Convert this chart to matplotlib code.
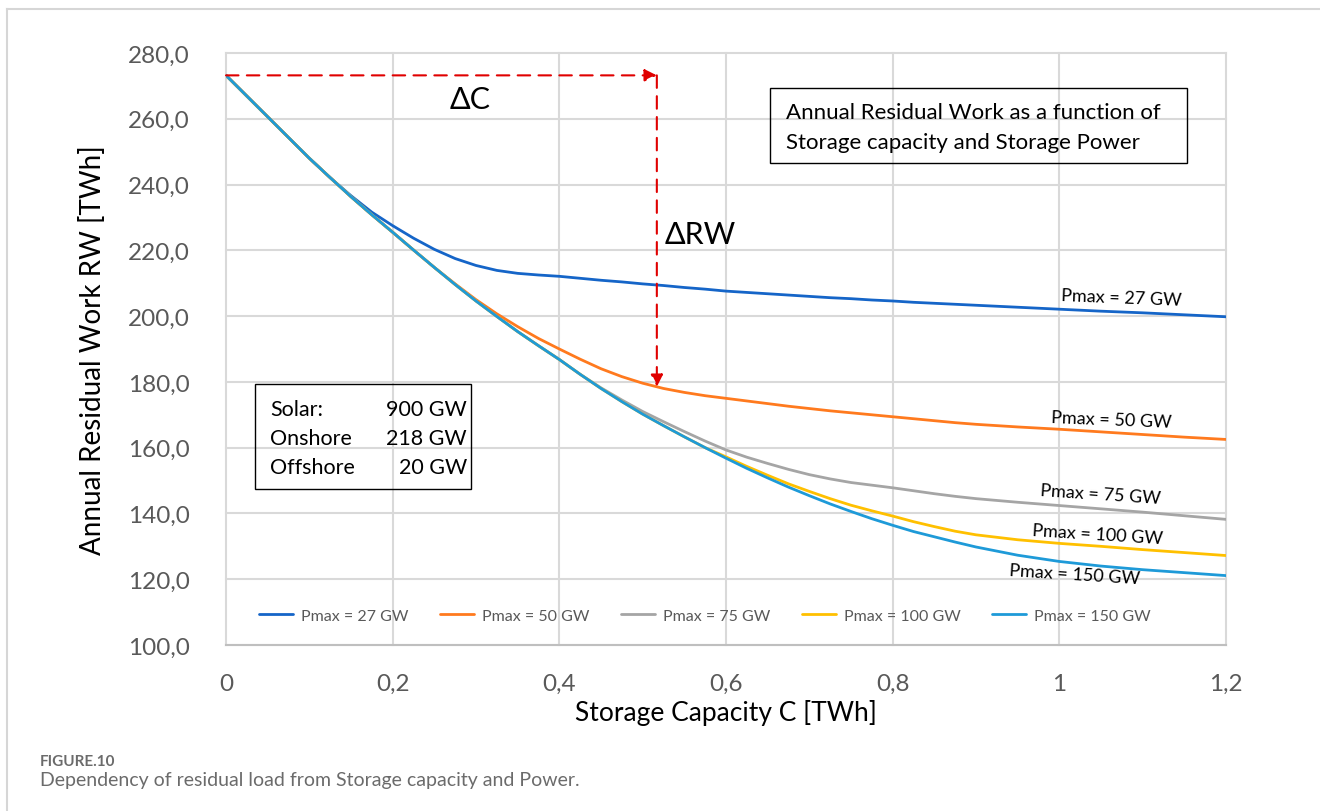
import matplotlib
matplotlib.use("Agg")
import matplotlib.pyplot as plt
from matplotlib.lines import Line2D
from matplotlib.patches import Rectangle
from matplotlib.ticker import FuncFormatter, MultipleLocator

plt.rcParams['font.family'] = ['Lato', 'DejaVu Sans']

# storage capacity C [TWh]
capacity = [0.00, 0.05, 0.10, 0.125, 0.15, 0.175, 0.20, 0.225, 0.25, 0.275,
            0.30, 0.325, 0.35, 0.375, 0.40, 0.425, 0.45, 0.475, 0.50, 0.525,
            0.55, 0.575, 0.60, 0.625, 0.65, 0.675, 0.70, 0.725, 0.75, 0.775,
            0.80, 0.825, 0.85, 0.875, 0.90, 0.95, 1.00, 1.05, 1.10, 1.15, 1.20]

# annual residual work RW [TWh] for each storage power
rw_27 = [273.2, 260.6, 248.0, 242.1, 236.6, 231.6, 227.5, 223.7, 220.3, 217.5,
         215.4, 213.9, 213.0, 212.5, 212.1, 211.5, 210.9, 210.4, 209.8, 209.3,
         208.7, 208.2, 207.6, 207.2, 206.8, 206.4, 206.0, 205.6, 205.3, 204.9,
         204.6, 204.2, 203.9, 203.6, 203.3, 202.7, 202.1, 201.5, 201.0, 200.4, 199.8]
rw_50 = [273.2, 260.6, 248.0, 242.1, 236.3, 230.8, 225.5, 220.1, 214.8, 209.8,
         205.0, 200.7, 196.8, 193.2, 190.0, 186.9, 184.0, 181.6, 179.6, 178.0,
         176.8, 175.8, 175.0, 174.2, 173.4, 172.6, 171.9, 171.2, 170.6, 170.0,
         169.4, 168.8, 168.2, 167.6, 167.1, 166.3, 165.6, 164.8, 164.0, 163.2, 162.5]
rw_75 = [273.2, 260.6, 248.0, 242.1, 236.3, 230.8, 225.5, 220.1, 214.8, 209.6,
         204.6, 199.9, 195.3, 191.0, 186.8, 182.3, 178.2, 174.5, 171.0, 167.9,
         164.9, 162.0, 159.3, 157.1, 155.2, 153.4, 151.8, 150.5, 149.4, 148.6,
         147.8, 146.9, 146.0, 145.2, 144.5, 143.4, 142.4, 141.4, 140.4, 139.3, 138.2]
rw_100 = [273.2, 260.6, 248.0, 242.1, 236.3, 230.8, 225.5, 220.1, 214.8, 209.6,
          204.6, 199.9, 195.3, 191.0, 186.8, 182.3, 178.0, 174.0, 170.2, 166.7,
          163.3, 160.0, 157.2, 154.3, 151.6, 149.0, 146.7, 144.5, 142.5, 140.8,
          139.2, 137.5, 136.0, 134.6, 133.5, 132.0, 130.9, 130.0, 129.0, 128.1, 127.2]
rw_150 = [273.2, 260.6, 248.0, 242.1, 236.3, 230.8, 225.5, 220.1, 214.8, 209.6,
          204.6, 199.9, 195.3, 191.0, 186.8, 182.3, 178.0, 174.0, 170.2, 166.7,
          163.3, 160.0, 156.8, 153.7, 150.8, 148.0, 145.4, 142.9, 140.6, 138.4,
          136.4, 134.5, 132.9, 131.3, 129.8, 127.3, 125.4, 124.0, 122.9, 122.0, 121.1]

series_labels = ['Pmax = 27 GW', 'Pmax = 50 GW', 'Pmax = 75 GW',
                 'Pmax = 100 GW', 'Pmax = 150 GW']
series_colors = ['#1565C8', '#FF7A1E', '#A5A5A5', '#FFC000', '#1E9AD8']

# where the end-of-curve labels sit (C, RW, rotation)
curve_label_pos = [(1.074, 205.8, -2.3), (1.062, 168.7, -2.3), (1.050, 145.9, -3.8),
                   (1.046, 133.6, -3.6), (1.018, 121.5, -3.6)]

installed_labels = ['Solar:', 'Onshore', 'Offshore']
installed_values = ['900 GW', '218 GW', '20 GW']

delta_c = 0.517
rw_start = 273.2
rw_at_delta = 178.5

fig = plt.figure(figsize=(13.2, 8.12), dpi=100)
ax = fig.add_axes([226 / 1320, 1 - 646 / 812, 1000 / 1320, 592 / 812])

for rw, lab, col in zip([rw_27, rw_50, rw_75, rw_100, rw_150], series_labels, series_colors):
    ax.plot(capacity, rw, color=col, lw=2.0, label=lab, solid_joinstyle='round',
            solid_capstyle='round')

ax.set_xlim(0, 1.2)
ax.set_ylim(100, 280)
ax.xaxis.set_major_locator(MultipleLocator(0.2))
ax.yaxis.set_major_locator(MultipleLocator(20))


def fmt_x(v, pos):
    s = f'{v:.1f}'.rstrip('0').rstrip('.')
    return s.replace('.', ',')


ax.xaxis.set_major_formatter(FuncFormatter(fmt_x))
ax.yaxis.set_major_formatter(FuncFormatter(lambda v, pos: f'{v:.1f}'.replace('.', ',')))
ax.tick_params(length=0, labelsize=17.5, labelcolor='#595959')
ax.tick_params(axis='y', pad=26)
ax.tick_params(axis='x', pad=20)

for s in ['top', 'right', 'left']:
    ax.spines[s].set_visible(False)
ax.spines['bottom'].set_color('#BFBFBF')
ax.spines['bottom'].set_linewidth(1.5)
ax.grid(True, color='#D9D9D9', lw=1.5)
ax.set_axisbelow(True)
for line in ax.get_xgridlines() + ax.get_ygridlines():
    line.set_clip_on(False)

ax.set_ylabel('Annual Residual Work RW [TWh]', fontsize=20, color='black', labelpad=16)
ax.set_xlabel('Storage Capacity C [TWh]', fontsize=19, color='black', labelpad=4)

# dashed red arrows for delta C and delta RW
arrow_style = dict(arrowstyle='-|>', color='#E00000', lw=1.5, linestyle=(0, (6, 4)),
                   mutation_scale=18, shrinkA=0, shrinkB=0)
ax.annotate('', xy=(delta_c, rw_start), xytext=(0, rw_start), arrowprops=arrow_style)
ax.annotate('', xy=(delta_c, rw_at_delta), xytext=(delta_c, rw_start), arrowprops=arrow_style)
ax.text(0.293, 266.1, 'ΔC', fontsize=22, ha='center', va='center')
ax.text(0.526, 225.0, 'ΔRW', fontsize=22, ha='left', va='center')

# title box
ax.add_patch(Rectangle((0.653, 246.6), 0.5, 22.8, fill=False, ec='black', lw=1.0))
ax.text(0.672, 262.2, 'Annual Residual Work as a function of', fontsize=16, va='center')
ax.text(0.672, 252.9, 'Storage capacity and Storage Power', fontsize=16, va='center')

# installed capacity box
ax.add_patch(Rectangle((0.035, 147.3), 0.259, 32.0, fill=False, ec='black', lw=1.0))
for i, (lab, val) in enumerate(zip(installed_labels, installed_values)):
    y = 171.7 - i * 8.8
    ax.text(0.053, y, lab, fontsize=15.5, va='center', ha='left')
    ax.text(0.289, y, val, fontsize=15.5, va='center', ha='right')

# labels at the end of each curve
for lab, (cx, cy, rot) in zip(series_labels, curve_label_pos):
    ax.text(cx, cy, lab, fontsize=13, ha='center', va='center', rotation=rot)

leg = ax.legend(loc='center', bbox_to_anchor=(0.479, 0.049), ncol=5, frameon=False,
                fontsize=11.5, handlelength=2.1, handletextpad=0.5, columnspacing=2.0,
                labelcolor='#595959')

# card border and caption
fig.add_artist(Line2D([7 / 1320, 1], [1 - 10 / 812, 1 - 10 / 812], color='#D6D6D6', lw=1.5))
fig.add_artist(Line2D([7 / 1320, 7 / 1320], [0, 1 - 10 / 812], color='#D6D6D6', lw=1.5))
fig.text(40 / 1320, 1 - 762 / 812, 'FIGURE.10', fontsize=11, fontweight='bold',
         color='#6B6B6B', va='center')
fig.text(40 / 1320, 1 - 781 / 812,
         'Dependency of residual load from Storage capacity and Power.',
         fontsize=14, color='#6B6B6B', va='center')

fig.savefig('out.png', dpi=100)
